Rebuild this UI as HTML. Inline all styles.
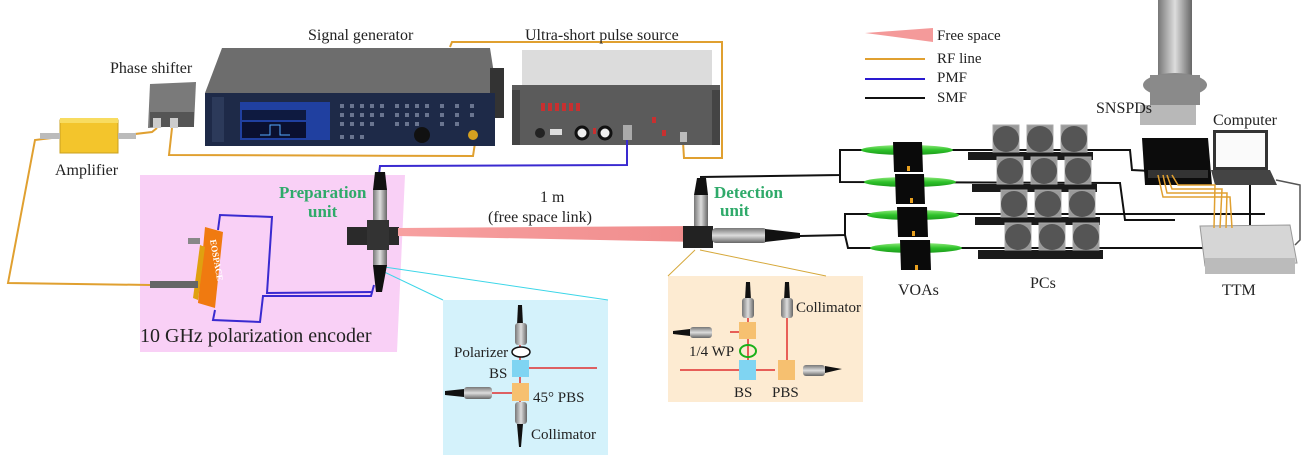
<!DOCTYPE html>
<html><head><meta charset="utf-8"><style>
html,body{margin:0;padding:0;background:#fff;}
svg{display:block;font-family:"Liberation Serif",serif;}
</style></head><body>
<svg width="1308" height="458" viewBox="0 0 1308 458" xmlns="http://www.w3.org/2000/svg">
<defs>
<linearGradient id="beam" x1="0" x2="1"><stop offset="0" stop-color="#f7a0a0"/><stop offset="1" stop-color="#f08c8c"/></linearGradient>
<linearGradient id="cyl" x1="0" x2="1"><stop offset="0" stop-color="#777"/><stop offset="0.5" stop-color="#ddd"/><stop offset="1" stop-color="#666"/></linearGradient>
<linearGradient id="cylh" x1="0" y1="0" x2="0" y2="1"><stop offset="0" stop-color="#777"/><stop offset="0.5" stop-color="#ddd"/><stop offset="1" stop-color="#666"/></linearGradient>
<linearGradient id="grn" x1="0" y1="0" x2="0" y2="1"><stop offset="0" stop-color="#8de87a"/><stop offset="0.5" stop-color="#2ec22a"/><stop offset="1" stop-color="#1c9a1c"/></linearGradient>
</defs>

<polygon points="140,175 405,175 397,352 140,352" fill="#f9d0f6"/>
<polygon points="443,300 608,300 608,455 443,455" fill="#d4f2fb"/>
<rect x="668" y="276" width="195" height="126" fill="#fdebd2"/>
<line x1="376" y1="268" x2="443" y2="300" stroke="#3cd6e8" stroke-width="1"/>
<line x1="378" y1="266" x2="608" y2="300" stroke="#3cd6e8" stroke-width="1"/>
<line x1="695" y1="250" x2="668" y2="276" stroke="#d6a83a" stroke-width="1"/>
<line x1="700" y1="250" x2="826" y2="276" stroke="#d6a83a" stroke-width="1"/>

<g fill="none" stroke="#e0a030" stroke-width="2">
<path d="M60,137 L35,140 L8,283 L150,285"/>
<path d="M118,136 L152,132 L157,128"/>
<path d="M172,128 L169,155 L473,156 L475,143"/>
<path d="M450,47 L452,42 L722,42 L722,158 L684,158 L683,142"/>
</g>

<rect x="60" y="120" width="58" height="33" fill="#f3c52c" stroke="#c9a020"/>
<rect x="60" y="118" width="58" height="5" fill="#f8dc60"/>
<rect x="40" y="133" width="20" height="6" fill="#bbb"/>
<rect x="118" y="133" width="18" height="6" fill="#bbb"/>
<polygon points="150,84 196,82 194,125 148,128" fill="#7a7a7a"/>
<rect x="150" y="112" width="44" height="15" fill="#555"/>
<rect x="153" y="118" width="8" height="10" fill="#ccc"/>
<rect x="170" y="118" width="8" height="10" fill="#ccc"/>

<polygon points="222,48 490,48 497,93 205,93" fill="#6d6d6d"/>
<rect x="490" y="68" width="14" height="50" fill="#333"/>
<rect x="205" y="93" width="290" height="53" fill="#1e2a48"/>
<rect x="212" y="97" width="12" height="45" fill="#2c3a5a"/>
<rect x="240" y="102" width="90" height="38" fill="#2040a0"/>
<rect x="242" y="110" width="64" height="10" fill="#0e1a40"/>
<rect x="242" y="122" width="64" height="16" fill="#0a1030"/>
<path d="M260,135 L270,135 L270,125 L280,125 L280,135 L290,135" stroke="#5af" fill="none"/>
<g fill="#6a7590">
<rect x="340" y="104" width="4" height="4"/><rect x="350" y="104" width="4" height="4"/><rect x="360" y="104" width="4" height="4"/><rect x="370" y="104" width="4" height="4"/><rect x="380" y="104" width="4" height="4"/><rect x="395" y="104" width="4" height="4"/><rect x="405" y="104" width="4" height="4"/><rect x="415" y="104" width="4" height="4"/><rect x="425" y="104" width="4" height="4"/><rect x="440" y="104" width="4" height="4"/><rect x="455" y="104" width="4" height="4"/><rect x="470" y="104" width="4" height="4"/>
<rect x="340" y="113" width="4" height="4"/><rect x="350" y="113" width="4" height="4"/><rect x="360" y="113" width="4" height="4"/><rect x="370" y="113" width="4" height="4"/><rect x="380" y="113" width="4" height="4"/><rect x="395" y="113" width="4" height="4"/><rect x="405" y="113" width="4" height="4"/><rect x="415" y="113" width="4" height="4"/><rect x="425" y="113" width="4" height="4"/><rect x="440" y="113" width="4" height="4"/><rect x="455" y="113" width="4" height="4"/><rect x="470" y="113" width="4" height="4"/>
<rect x="340" y="122" width="4" height="4"/><rect x="350" y="122" width="4" height="4"/><rect x="360" y="122" width="4" height="4"/><rect x="370" y="122" width="4" height="4"/><rect x="395" y="122" width="4" height="4"/><rect x="405" y="122" width="4" height="4"/><rect x="415" y="122" width="4" height="4"/><rect x="440" y="122" width="4" height="4"/><rect x="455" y="122" width="4" height="4"/>
<rect x="340" y="135" width="4" height="4"/><rect x="350" y="135" width="4" height="4"/><rect x="360" y="135" width="4" height="4"/>
</g>
<circle cx="422" cy="135" r="8" fill="#111"/>
<circle cx="473" cy="135" r="5" fill="#d4a020"/>

<rect x="522" y="50" width="190" height="35" fill="#dcdcdc"/>
<rect x="512" y="85" width="208" height="60" fill="#5b5b5b"/>
<rect x="512" y="90" width="8" height="55" fill="#444"/><rect x="712" y="90" width="8" height="55" fill="#444"/>
<g fill="#c83030"><rect x="541" y="103" width="4" height="8"/><rect x="548" y="103" width="4" height="8"/><rect x="555" y="103" width="4" height="8"/><rect x="562" y="103" width="4" height="8"/><rect x="569" y="103" width="4" height="8"/><rect x="576" y="103" width="4" height="8"/><rect x="652" y="117" width="4" height="6"/><rect x="593" y="128" width="3" height="6"/><rect x="662" y="130" width="4" height="6"/></g>
<circle cx="540" cy="133" r="5" fill="#222"/>
<rect x="550" y="129" width="12" height="6" fill="#ddd"/>
<circle cx="582" cy="133" r="6" fill="#eee" stroke="#111" stroke-width="3"/>
<circle cx="605" cy="133" r="6" fill="#eee" stroke="#111" stroke-width="3"/>
<rect x="623" y="125" width="9" height="15" fill="#aaa"/>
<rect x="680" y="132" width="7" height="10" fill="#bbb"/>

<path d="M627,140 L627,165 L380,166 L378,182" fill="none" stroke="#3a2ad0" stroke-width="2"/>

<polygon points="865,33 933,28 933,42" fill="#f49a9a"/>
<line x1="865" y1="59" x2="925" y2="59" stroke="#e0a030" stroke-width="2"/>
<line x1="865" y1="79" x2="925" y2="79" stroke="#2a1ad0" stroke-width="2"/>
<line x1="865" y1="98" x2="925" y2="98" stroke="#111" stroke-width="2"/>
<g font-size="15" fill="#222">
<text x="937" y="40">Free space</text>
<text x="937" y="63">RF line</text>
<text x="937" y="82">PMF</text>
<text x="937" y="102">SMF</text>
</g>

<path d="M215,310 L213,320 L260,322 L263,296 L371,296 L374,285" fill="none" stroke="#3a2ad0" stroke-width="2"/>
<path d="M218,230 L220,215 L272,217 L267,293 L372,292" fill="none" stroke="#3a2ad0" stroke-width="2"/>
<polygon points="205,227 223,232 215,308 198,303" fill="#f07a10"/>
<polygon points="200,245 205,247 198,300 193,298" fill="#e0a010"/>
<rect x="150" y="281" width="48" height="7" fill="#666"/>
<rect x="188" y="238" width="12" height="6" fill="#888"/>
<text x="210" y="240" font-size="9" fill="#fff" transform="rotate(80 210 240)" font-weight="bold">EOSPACE</text>

<rect x="373" y="185" width="14" height="85" rx="5" fill="url(#cyl)"/>
<polygon points="375,172 385,172 387,190 373,190" fill="#111"/>
<polygon points="373,265 387,265 382,292 376,292" fill="#111"/>
<rect x="347" y="227" width="52" height="18" fill="#2a2a2a"/>
<rect x="367" y="220" width="22" height="30" fill="#333"/>

<polygon points="398,228 700,226 700,242 398,236" fill="url(#beam)"/>

<rect x="694" y="192" width="14" height="42" rx="4" fill="url(#cyl)"/>
<polygon points="697,178 706,178 708,195 694,195" fill="#111"/>
<rect x="683" y="226" width="30" height="22" fill="#222"/>
<rect x="712" y="228" width="55" height="15" rx="4" fill="url(#cylh)"/>
<polygon points="765,229 800,233 800,238 765,242" fill="#111"/>

<g fill="none" stroke="#111" stroke-width="2">
<path d="M700,177 L840,175 L840,150 L1130,150 L1132,170 L1170,172"/>
<path d="M840,175 L840,182 L1120,183 L1125,220 L1175,220"/>
<path d="M800,236 L845,235 L845,214 L1265,214"/>
<path d="M845,235 L848,248 L1250,248 L1250,182"/>
</g>

<g>
<ellipse cx="907" cy="150" rx="46" ry="5" fill="url(#grn)"/>
<ellipse cx="910" cy="182" rx="46" ry="5" fill="url(#grn)"/>
<ellipse cx="913" cy="215" rx="46" ry="5" fill="url(#grn)"/>
<ellipse cx="916" cy="248" rx="46" ry="5" fill="url(#grn)"/>
<polygon points="893,142 922,142 923,172 894,172" fill="#0a0a0a"/>
<polygon points="895,174 924,174 925,204 896,204" fill="#0a0a0a"/>
<polygon points="897,207 927,207 928,237 898,237" fill="#0a0a0a"/>
<polygon points="900,240 930,240 931,270 901,270" fill="#0a0a0a"/>
<g fill="#e8a020"><rect x="907" y="166" width="3" height="5"/><rect x="910" y="198" width="3" height="5"/><rect x="912" y="231" width="3" height="5"/><rect x="915" y="265" width="3" height="5"/></g>
</g>

<g>
<rect x="968" y="152" width="125" height="8" fill="#1a1a1a"/>
<rect x="972" y="184" width="125" height="8" fill="#1a1a1a"/>
<rect x="975" y="217" width="125" height="8" fill="#1a1a1a"/>
<rect x="978" y="250" width="125" height="9" fill="#1a1a1a"/>
<g fill="#9a9a9a" stroke="#aaa">
<rect x="993" y="125" width="26" height="27"/><rect x="1027" y="125" width="26" height="27"/><rect x="1061" y="125" width="26" height="27"/>
<rect x="997" y="157" width="26" height="27"/><rect x="1031" y="157" width="26" height="27"/><rect x="1065" y="157" width="26" height="27"/>
<rect x="1001" y="190" width="26" height="27"/><rect x="1035" y="190" width="26" height="27"/><rect x="1069" y="190" width="26" height="27"/>
<rect x="1005" y="223" width="26" height="27"/><rect x="1039" y="223" width="26" height="27"/><rect x="1073" y="223" width="26" height="27"/>
</g>
<g fill="#555">
<circle cx="1006" cy="139" r="13"/><circle cx="1040" cy="139" r="13"/><circle cx="1074" cy="139" r="13"/>
<circle cx="1010" cy="171" r="13"/><circle cx="1044" cy="171" r="13"/><circle cx="1078" cy="171" r="13"/>
<circle cx="1014" cy="204" r="13"/><circle cx="1048" cy="204" r="13"/><circle cx="1082" cy="204" r="13"/>
<circle cx="1018" cy="237" r="13"/><circle cx="1052" cy="237" r="13"/><circle cx="1086" cy="237" r="13"/>
</g>
</g>

<rect x="1158" y="0" width="34" height="75" fill="url(#cyl)"/>
<ellipse cx="1175" cy="85" rx="32" ry="12" fill="#888"/>
<rect x="1150" y="75" width="50" height="30" fill="#8a8a8a"/>
<rect x="1140" y="105" width="56" height="20" fill="#b8b8b8"/>
<polygon points="1142,138 1208,138 1212,185 1145,185" fill="#0c0c0c"/>
<rect x="1148" y="170" width="60" height="8" fill="#333"/>
<rect x="1213" y="130" width="55" height="40" fill="#333"/>
<rect x="1216" y="133" width="49" height="34" fill="#fafafa"/>
<polygon points="1211,170 1270,170 1277,185 1215,185" fill="#444"/>
<path d="M1276,180 L1300,185 L1300,240 L1295,245" fill="none" stroke="#555" stroke-width="1.5"/>
<polygon points="1200,226 1290,225 1297,263 1205,266" fill="#d6d6d6" stroke="#999"/>
<rect x="1205" y="258" width="90" height="16" fill="#bbb"/>
<g fill="none" stroke="#e0a030" stroke-width="1.5">
<path d="M1158,175 L1163,197 L1230,197 L1232,228"/>
<path d="M1163,175 L1167,193 L1227,193 L1226,228"/>
<path d="M1167,175 L1172,189 L1222,189 L1220,228"/>
<path d="M1172,175 L1178,185 L1215,185 L1214,228"/>
</g>

<g>
<line x1="520" y1="320" x2="520" y2="445" stroke="#e03030" stroke-width="1.5"/>
<line x1="524" y1="368" x2="597" y2="368" stroke="#e03030" stroke-width="1.5"/>
<line x1="470" y1="393" x2="518" y2="393" stroke="#e03030" stroke-width="1.5"/>
<polygon points="518,305 522,305 523,325 517,325" fill="#111"/>
<rect x="515" y="323" width="12" height="22" rx="3" fill="url(#cyl)"/>
<ellipse cx="521" cy="352" rx="9" ry="5" fill="#fff" stroke="#111" stroke-width="1.5"/>
<rect x="512" y="360" width="17" height="17" fill="#7fd4f2"/>
<rect x="512" y="383" width="17" height="18" fill="#f6c070"/>
<rect x="464" y="387" width="28" height="12" rx="3" fill="url(#cylh)"/>
<polygon points="445,391 464,389 464,397 445,395" fill="#111"/>
<rect x="515" y="402" width="12" height="22" rx="3" fill="url(#cyl)"/>
<polygon points="517,424 523,424 521,447 519,447" fill="#111"/>
</g>
<g font-size="15" fill="#222">
<text x="454" y="357">Polarizer</text>
<text x="489" y="378">BS</text>
<text x="533" y="402">45° PBS</text>
<text x="531" y="439">Collimator</text>
</g>

<g>
<line x1="680" y1="370" x2="775" y2="370" stroke="#e03030" stroke-width="1.5"/>
<line x1="730" y1="332" x2="755" y2="332" stroke="#e03030" stroke-width="1.5"/>
<line x1="748" y1="310" x2="748" y2="380" stroke="#e03030" stroke-width="1.5"/>
<line x1="787" y1="310" x2="787" y2="370" stroke="#e03030" stroke-width="1.5"/>
<polygon points="746,282 750,282 751,300 745,300" fill="#111"/>
<rect x="742" y="298" width="12" height="20" rx="3" fill="url(#cyl)"/>
<polygon points="785,282 789,282 790,300 784,300" fill="#111"/>
<rect x="781" y="298" width="12" height="20" rx="3" fill="url(#cyl)"/>
<rect x="739" y="322" width="17" height="17" fill="#f6c070"/>
<ellipse cx="748" cy="351" rx="8" ry="6" fill="none" stroke="#1ab01a" stroke-width="2"/>
<rect x="739" y="360" width="17" height="20" fill="#7fd4f2"/>
<rect x="778" y="360" width="17" height="20" fill="#f6c070"/>
<rect x="690" y="327" width="22" height="11" rx="3" fill="url(#cylh)"/>
<polygon points="673,331 690,329 690,336 673,334" fill="#111"/>
<rect x="803" y="365" width="22" height="11" rx="3" fill="url(#cylh)"/>
<polygon points="825,366 842,369 825,373" fill="#111"/>
</g>
<g font-size="15" fill="#222">
<text x="796" y="312">Collimator</text>
<text x="689" y="356">1/4 WP</text>
<text x="734" y="397">BS</text>
<text x="772" y="397">PBS</text>
</g>

<g font-size="16" fill="#222">
<text x="308" y="40">Signal generator</text>
<text x="525" y="40">Ultra-short pulse source</text>
<text x="110" y="73">Phase shifter</text>
<text x="55" y="175">Amplifier</text>
<text x="540" y="202">1 m</text>
<text x="488" y="222">(free space link)</text>
<text x="140" y="342" font-size="20">10 GHz polarization encoder</text>
<text x="1096" y="113">SNSPDs</text>
<text x="1213" y="125">Computer</text>
<text x="898" y="295">VOAs</text>
<text x="1030" y="288">PCs</text>
<text x="1222" y="295">TTM</text>
</g>
<g font-size="17" fill="#2faa6a" font-weight="bold">
<text x="279" y="198">Preparation</text>
<text x="308" y="217">unit</text>
<text x="714" y="198">Detection</text>
<text x="720" y="216">unit</text>
</g>
</svg>
</body></html>
